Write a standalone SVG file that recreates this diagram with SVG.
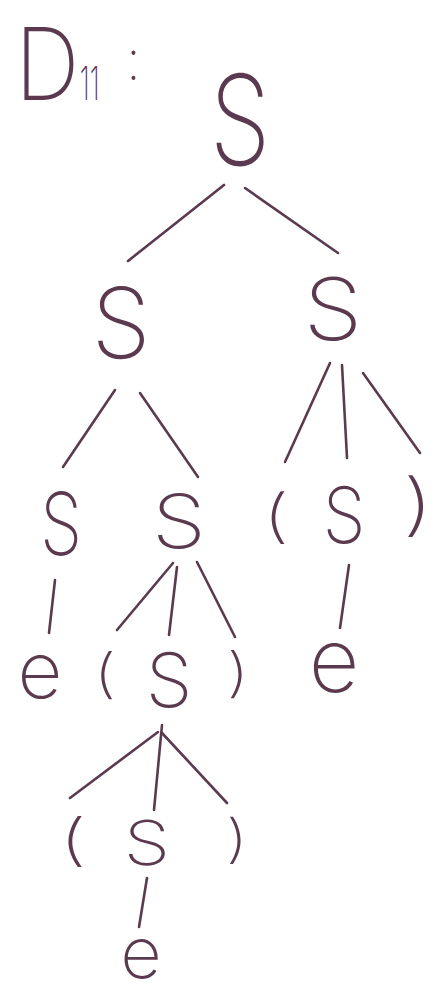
<svg xmlns="http://www.w3.org/2000/svg" width="446" height="994" viewBox="0 0 446 994">
<style>
.t{font-family:"Inter","Roboto","DejaVu Sans",sans-serif;font-weight:200;fill:#5b3a4f;text-anchor:middle}
.big{font-weight:150}
.e line{stroke:#5b3a4f;stroke-width:2.6;stroke-linecap:round;fill:none}
</style>
<rect width="446" height="994" fill="#ffffff"/>
<g id="label">
<text class="t big" style="text-anchor:start" transform="translate(15,100) scale(0.9,1)"><tspan x="0" y="0" font-size="100">D</tspan><tspan x="72" y="0" font-size="46" font-weight="250" textLength="22" lengthAdjust="spacingAndGlyphs">11</tspan><tspan x="124" y="-20" font-size="56" font-weight="250">:</tspan></text>
</g>
<g id="edges" class="e">
<line x1="224" y1="185" x2="128" y2="261"/>
<line x1="245" y1="188" x2="338" y2="253"/>
<line x1="115" y1="390" x2="63" y2="467"/>
<line x1="140" y1="393" x2="198" y2="477"/>
<line x1="330" y1="363" x2="285" y2="462"/>
<line x1="342" y1="365" x2="347" y2="458"/>
<line x1="363" y1="373" x2="420" y2="453"/>
<line x1="55" y1="580" x2="49" y2="633"/>
<line x1="173" y1="563" x2="117" y2="630"/>
<line x1="177" y1="567" x2="169" y2="635"/>
<line x1="197" y1="562" x2="235" y2="637"/>
<line x1="349" y1="565" x2="340" y2="628"/>
<line x1="158" y1="732" x2="70" y2="798"/>
<line x1="162" y1="725" x2="154" y2="810"/>
<line x1="162" y1="733" x2="227" y2="803"/>
<line x1="147" y1="878" x2="139" y2="927"/>
</g>
<g id="n-root"><text class="t big" font-size="125" font-weight="130" transform="translate(240,165) scale(0.78,1)">S</text></g>
<g id="n-s-l"><text class="t big" font-size="97" transform="translate(121,358) scale(0.98,1)">S</text></g>
<g id="n-s-r"><text class="t big" font-size="86" transform="translate(333,340) scale(1.1,1)">S</text></g>
<g id="n-s-ll"><text class="t big" font-size="87" transform="translate(61,555) scale(0.77,1)">S</text></g>
<g id="n-s-lr"><text class="t" font-size="74" transform="translate(179,548) scale(1.17,1)">S</text></g>
<g id="n-lp-r"><text class="t" font-size="58" transform="translate(276,536) scale(1.4,1)">(</text></g>
<g id="n-s-rm"><text class="t" font-size="78" transform="translate(344,543) scale(0.88,1)">S</text></g>
<g id="n-rp-r"><text class="t" font-size="68" transform="translate(418,528) scale(1.4,1)">)</text></g>
<g id="n-e-ll"><text class="t" font-size="78" transform="translate(40,698)">e</text></g>
<g id="n-lp-lr"><text class="t" font-size="53" transform="translate(105,692) scale(1.3,1)">(</text></g>
<g id="n-s-lrm"><text class="t" font-size="75" transform="translate(169,707)">S</text></g>
<g id="n-rp-lr"><text class="t" font-size="53" transform="translate(238,691) scale(1.3,1)">)</text></g>
<g id="n-e-rm"><text class="t big" font-size="88" transform="translate(334,692)">e</text></g>
<g id="n-lp-deep"><text class="t" font-size="56" transform="translate(73,859) scale(1.5,1)">(</text></g>
<g id="n-s-deep"><text class="t" font-size="62" transform="translate(147,865) scale(1.2,1)">S</text></g>
<g id="n-rp-deep"><text class="t" font-size="52" transform="translate(237,857) scale(1.3,1)">)</text></g>
<g id="n-e-deep"><text class="t" font-size="72" transform="translate(141,978)">e</text></g>
</svg>
